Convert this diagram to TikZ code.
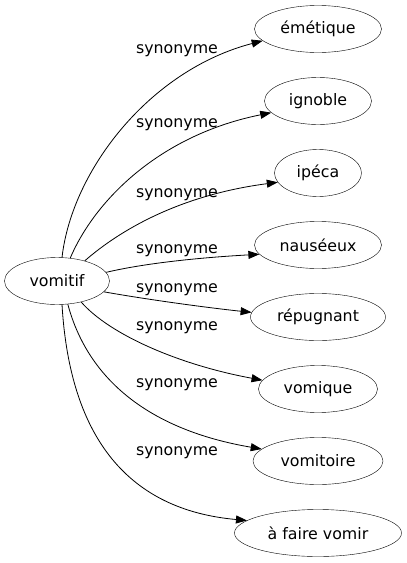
\documentclass[tikz,border=0pt]{standalone}
\usepackage{fontspec}
\setmainfont{DejaVu Sans}
\usetikzlibrary{arrows.meta, shapes.geometric}

\begin{document}
\begin{tikzpicture}[
		x=1pt, y=-1pt,
		word/.style={draw, ellipse, inner sep=0pt, minimum height=47pt, font=\fontsize{15.8}{19}\selectfont},
		lbl/.style={inner sep=0pt, font=\fontsize{15.8}{19}\selectfont},
		arrow/.style={-{Triangle[length=11pt, width=8pt]}, line width=0.8pt}
		]
		\useasboundingbox (0,0) rectangle (407,563);
		
		% Nodes
		\node[word, minimum width=105pt] (vomitif) at (57,281) {vomitif};
		\node[word, minimum width=127pt] (emetique) at (318,29) {émétique};
		\node[word, minimum width=107pt] (ignoble) at (318,101) {ignoble};
		\node[word, minimum width=87pt] (ipeca) at (318,173) {ipéca};
		\node[word, minimum width=127pt] (nauseeux) at (318,245) {nauséeux};
		\node[word, minimum width=135pt] (repugnant) at (318,317) {répugnant};
		\node[word, minimum width=119pt] (vomique) at (318,389) {vomique};
		\node[word, minimum width=130pt] (vomitoire) at (318,461) {vomitoire};
		\node[word, minimum width=167pt] (afaire) at (318,533) {à faire vomir};
		
		% Labels
		\node[lbl] (l1) at (177,51) {synonyme};
		\node[lbl] (l2) at (177,125) {synonyme};
		\node[lbl] (l3) at (177,195) {synonyme};
		\node[lbl] (l4) at (177,251) {synonyme};
		\node[lbl] (l5) at (177,290) {synonyme};
		\node[lbl] (l6) at (177,328) {synonyme};
		\node[lbl] (l7) at (177,385) {synonyme};
		\node[lbl] (l8) at (177,453) {synonyme};
		
		% Arrows
		\draw[arrow] (vomitif.78) .. controls (72,170) and (150,70) .. (emetique.192);
		\draw[arrow] (vomitif.60) .. controls (95,200) and (160,135) .. (ignoble.194);
		\draw[arrow] (vomitif.36) .. controls (120,230) and (180,195) .. (ipeca.193);
		\draw[arrow] (vomitif.10) .. controls (150,262) and (210,257) .. (nauseeux.189);
		\draw[arrow] (vomitif.-13) .. controls (150,300) and (210,308) .. (repugnant.176);
		\draw[arrow] (vomitif.-41) .. controls (110,335) and (180,365) .. (vomique.171);
		\draw[arrow] (vomitif.-65) .. controls (88,380) and (150,430) .. (vomitoire.168);
		\draw[arrow] (vomitif.-78) .. controls (70,440) and (130,510) .. (afaire.170);
	\end{tikzpicture}
\end{document}
